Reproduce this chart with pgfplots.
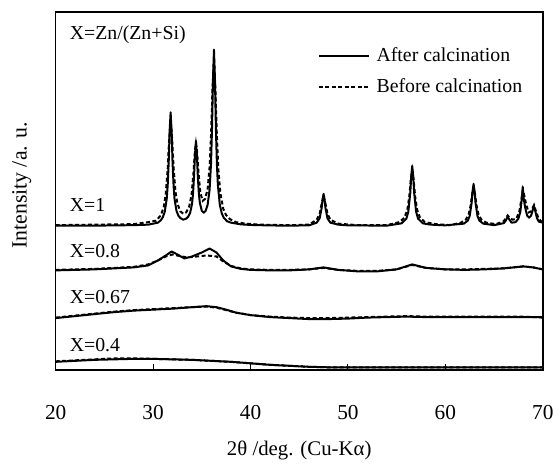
\documentclass[border=0pt]{standalone}
\usepackage{pgfplots}
\pgfplotsset{compat=1.18}
\usepackage{fontspec}
\setmainfont{Liberation Serif}
\begin{document}
\fontsize{20}{24}\selectfont
\begin{tikzpicture}
\begin{axis}[
  name=ax,
  width=490bp, height=360bp, scale only axis,
  xmin=20, xmax=70, ymin=0, ymax=360,
  xtick={20,30,40,50,60,70},
  ytick=\empty,
  tick align=inside, xtick pos=bottom,
  major tick length=6bp,
  every tick/.style={black, line width=1bp},
  axis line style={line width=1.6bp},
  /pgf/number format/assume math mode=true,
  xticklabel style={font=\fontsize{21.5}{25}\selectfont, yshift=-29bp},
  xlabel={2θ /deg. (Cu-Kα)},
  ylabel={Intensity /a. u.},
  xlabel style={at={(axis description cs:0.5,-0.225)}, anchor=center, font=\fontsize{21}{25}\selectfont},
  ylabel style={at={(axis description cs:-0.0698,0.515)}, anchor=center, font=\fontsize{22}{26}\selectfont},
  legend style={draw=none, fill=none, at={(rel axis cs:0.538,0.902)}, anchor=north west,
    font=\fontsize{20}{24}\selectfont, row sep=15bp, inner sep=0pt, nodes={inner sep=0pt}},
  legend cell align=left,
  legend image code/.code={\draw[#1, line width=2bp] (0bp,0bp) -- (50bp,0bp); \path[draw=none, fill=none, mark=none] (0bp,0bp) -- (58bp,0bp);},
  solid curve/.style={black, line width=2bp, line join=round},
  dashed curve/.style={black, line width=2bp, dash pattern=on 4bp off 2.5bp},
]
% ---- X=1 after calcination
\addplot[solid curve, forget plot] coordinates {
(20,145)(24,145)(28,145.5)(29.5,146)(30.5,148)(30.8,150.5)(31.0,153.5)(31.2,159)(31.4,172)(31.5,185.5)(31.6,208)(31.7,240)(31.8,259)(31.9,240)(32.0,208)(32.1,186)(32.2,172)(32.4,160)(32.6,155)(32.8,152.6)(33.1,151)(33.4,152)(33.6,154)(33.8,157.7)(34.0,167)(34.1,177)(34.2,194)(34.3,216)(34.4,230)(34.5,216)(34.6,193)(34.7,177)(34.8,168)(35.0,160)(35.2,158)(35.4,160)(35.6,166)(35.8,181)(35.95,208)(36.05,243)(36.15,292)(36.25,322)(36.35,292)(36.45,242)(36.55,207)(36.65,186)(36.85,166)(37.05,157.4)(37.25,153)(37.6,149.4)(38,148)(39,146.3)(40,145.7)(42,145.2)(44,145)(46,145.3)(46.8,148)(47.1,152.4)(47.3,162.5)(47.4,171.5)(47.5,177)(47.6,171.5)(47.7,162.5)(47.9,152.4)(48.2,148)(49,146)(50,145.3)(54,145)(55.5,147.3)(56.0,152)(56.2,159)(56.4,178)(56.5,195)(56.6,205)(56.7,195)(56.8,178)(57.0,159)(57.2,152)(57.7,147.3)(58.5,146)(60,145.3)(61.9,147)(62.3,150)(62.5,154.7)(62.7,168)(62.8,179.8)(62.9,187)(63.0,180)(63.1,168)(63.3,154.7)(63.5,150)(63.9,147)(65,145.5)(66.0,147.5)(66.2,150)(66.4,154)(66.6,150.7)(66.8,148)(67.2,148.5)(67.5,152)(67.7,159)(67.85,172)(67.95,184)(68.05,172)(68.2,163)(68.4,155)(68.6,153)(68.8,155)(68.95,160)(69.1,164.5)(69.25,159)(69.4,152.6)(69.6,149)(70,148)
};
% ---- X=1 before calcination
\addplot[dashed curve, forget plot] coordinates {
(20,145.5)(24,146)(28,146.5)(29.5,148.5)(30.3,150)(30.8,155.4)(31.1,164)(31.3,177)(31.5,202)(31.65,232)(31.8,252)(31.95,233)(32.1,204)(32.3,179)(32.5,167)(32.8,159.4)(33.1,157)(33.4,158.4)(33.7,164)(33.95,176)(34.15,198.6)(34.3,221)(34.4,228)(34.5,221.7)(34.65,200)(34.85,178)(35.1,170)(35.35,172)(35.6,182)(35.8,204)(35.95,236)(36.1,283)(36.25,312)(36.4,282)(36.55,235)(36.7,201.6)(36.9,178)(37.2,162)(37.5,155.5)(37.9,151.5)(38.5,148.5)(39.5,147)(41,146)(44,145.5)(46,146)(46.8,151)(47.1,157)(47.3,167)(47.5,175)(47.7,167)(47.9,157)(48.2,151)(49,147)(51,145.5)(54,145.5)(55.3,148.6)(55.8,153)(56.1,161)(56.3,174.5)(56.45,190.5)(56.6,200.5)(56.75,190.5)(56.9,174.5)(57.1,161)(57.4,153)(57.9,148.6)(59,146.5)(60.5,145.5)(61.6,148)(62.1,151)(62.4,156.5)(62.6,165.5)(62.75,176.5)(62.9,183.5)(63.05,176.5)(63.2,165.5)(63.4,156.5)(63.7,151)(64.2,148)(65.2,146.5)(66.0,149.5)(66.2,152.5)(66.4,155.3)(66.6,153)(66.9,151)(67.3,152)(67.6,159.5)(67.8,171)(67.95,181)(68.1,175.4)(68.3,166)(68.55,158.3)(68.8,159.4)(69.1,165.7)(69.35,158)(69.6,151.6)(70,148)
};
% ---- X=0.8 after
\addplot[solid curve, forget plot] coordinates {
(20,100)(22,100.5)(24,101)(26,102)(28,103)(29.5,105)(30.5,110)(31.3,115)(31.9,119)(32.5,116)(33.2,112)(34,114)(35,118)(35.8,122)(36.5,118)(37.2,110)(38,104)(39,101.5)(40,100.5)(42,100)(44,100)(46,101)(47.5,103)(49,100.5)(51,99)(53,99)(55,101)(56.6,106)(58,102.5)(60,101)(62,100.5)(64,101)(66,102)(68,104)(69,103)(70,101)
};
% ---- X=0.8 before
\addplot[dashed curve, forget plot] coordinates {
(20,100.5)(22,101)(24,101.5)(26,102.5)(28,103.5)(29.5,106)(30.5,110)(31.3,114)(32,116)(32.7,114.5)(33.5,113)(34.5,114)(35.5,115)(36.5,114)(37.2,109)(38,104.5)(39,102)(40,101)(42,100.5)(44,100.5)(46,101)(47.5,102.5)(49,100.5)(51,99.5)(53,99.5)(55,101)(56.6,105.5)(58,102.5)(60,101)(62,101)(64,101.5)(66,102)(68,104)(69,103)(70,101)
};
% ---- X=0.67 after
\addplot[solid curve, forget plot] coordinates {
(20,52)(22,54)(24,56)(26,58)(28,59.5)(30,60.5)(32,61.5)(34,63)(35.5,64)(36.5,63)(37.5,60.5)(38.5,57.5)(40,55)(42,53)(44,52)(46,51)(48,51)(50,51.5)(52,52.5)(54,53)(56,53.5)(58,53)(60,53)(62,53)(64,53)(66,53)(68,53)(70,53)
};
% ---- X=0.67 before
\addplot[dashed curve, forget plot] coordinates {
(20,52.5)(22,54.5)(24,56.5)(26,58.5)(28,60)(30,61)(32,62)(34,63)(35.5,63.5)(36.5,62.5)(37.5,60)(38.5,57.5)(40,55)(42,53.5)(44,52.5)(46,52)(48,52)(50,52.5)(52,53)(54,53.5)(56,54)(58,53.5)(60,53.5)(62,53.5)(64,53.5)(66,53.5)(68,53.5)(70,52.5)
};
% ---- X=0.4 after
\addplot[solid curve, forget plot] coordinates {
(20,8)(22,9)(24,10)(26,10.5)(28,11)(30,11)(32,10.5)(34,10)(36,9)(38,8)(40,6.5)(42,5)(44,4)(46,3)(48,2.5)(50,2.5)(55,2.5)(60,2.5)(65,2.5)(70,2.5)
};
% ---- X=0.4 before
\addplot[dashed curve, forget plot] coordinates {
(20,8.5)(22,9.5)(24,10.5)(26,11.5)(28,11.5)(30,11)(32,10.5)(34,10)(36,9)(38,8)(40,6.5)(42,5)(44,4)(46,3)(48,2.5)(50,2.5)(55,2.5)(60,2.5)(65,2.5)(70,2.5)
};
\addlegendimage{solid curve}
\addlegendentry{After calcination}
\addlegendimage{dashed curve}
\addlegendentry{Before calcination}
\node[anchor=west, inner sep=0pt] at (axis cs:21.43,337) {X=Zn/(Zn+Si)};
\node[anchor=west, inner sep=0pt] at (axis cs:21.43,166) {X=1};
\node[anchor=west, inner sep=0pt] at (axis cs:21.43,119) {X=0.8};
\node[anchor=west, inner sep=0pt] at (axis cs:21.43,73) {X=0.67};
\node[anchor=west, inner sep=0pt] at (axis cs:21.43,25) {X=0.4};
\end{axis}
\path ([shift={(-56bp,-87bp)}]ax.south west) rectangle ([shift={(14bp,12bp)}]ax.north east);
\end{tikzpicture}
\end{document}
